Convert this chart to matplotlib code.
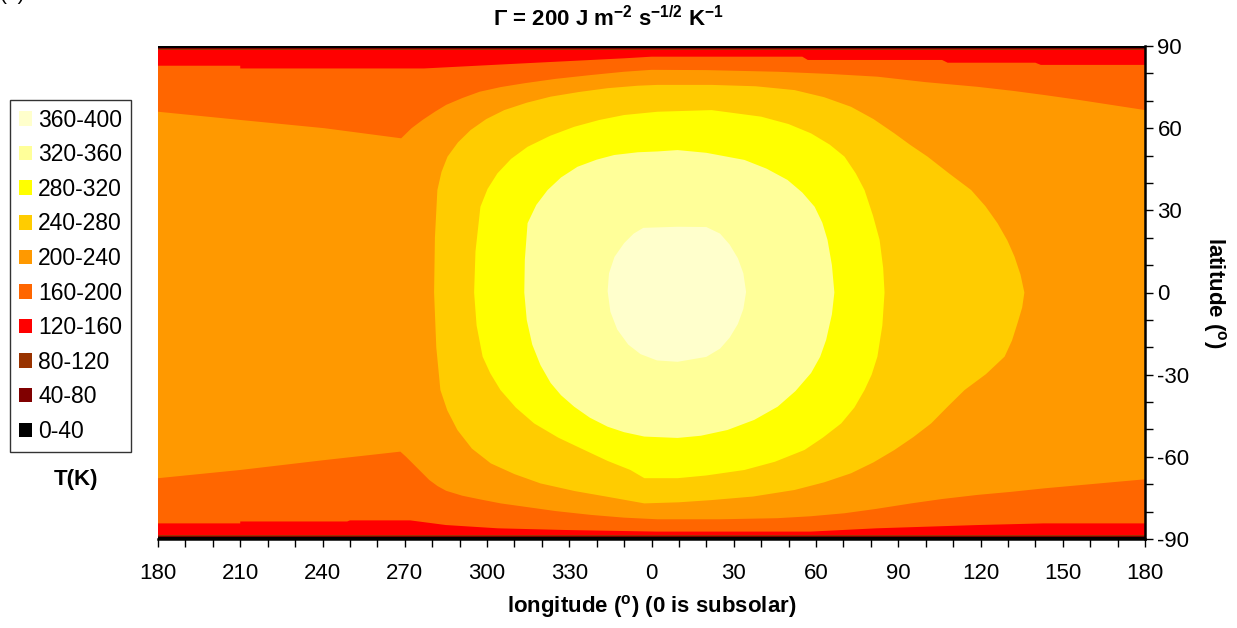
import matplotlib
matplotlib.use("Agg")
import matplotlib.pyplot as plt
from matplotlib.patches import Patch
from matplotlib.ticker import MultipleLocator, FuncFormatter

# temperature classes (K), low to high
classes = ["0-40", "40-80", "80-120", "120-160", "160-200", "200-240",
           "240-280", "280-320", "320-360", "360-400"]
colors = ["#000000", "#800000", "#993300", "#FF0000", "#FF6600", "#FF9900",
          "#FFCC00", "#FFFF00", "#FFFF99", "#FFFFCC"]

# thin polar rims: |lat| inside which 40-80, 80-120, 120-160 start
rim_lat = [89.3, 88.9, 88.5]

# 120-160 / 160-200 boundary (longitude measured from subsolar point)
red_n_lon = [-180, -150, -150, -83, -46, -10, 0, 55, 57, 106, 108, 140, 142, 180]
red_n_lat = [82.8, 82.8, 81.8, 81.8, 83.7, 85.5, 86.1, 86.1, 84.9, 84.9, 83.9, 83.9, 83.1, 83.1]
red_s_lon = [-180, -150, -150, -111, -110, -88, -75, -56, -32, 2, 58, 82, 119, 143, 180]
red_s_lat = [-84.3, -84.3, -83.6, -83.6, -83.2, -83.2, -84.9, -86.1, -86.7, -87.3, -87.3,
             -86.1, -84.9, -84.3, -84.3]

# 160-200 / 200-240 boundary
org_n_lon = [-180, -150, -119.4, -91.3, -87.5, -83.5, -79, -74.9, -69, -62.7, -55, -46.4,
             -35, -22.1, -10, 0, 20, 46, 65, 82.4, 100, 118.9, 132, 143.3, 156, 167.7, 180]
org_n_lat = [66.0, 63.0, 60.0, 56.3, 60.0, 63.0, 66.0, 68.5, 71.0, 73.3, 75.0, 76.4,
             78.0, 79.4, 80.6, 81.3, 81.2, 80.6, 79.8, 78.8, 76.8, 75.1, 73.6, 72.1, 70.3,
             68.5, 66.6]
org_s_lon = [-180, -150, -119.4, -91.6, -89.5, -87.1, -84, -81.0, -78, -74.9, -69, -62.7,
             -55, -46.4, -35, -22.1, -10, 2.2, 25, 46, 58, 70.4, 82, 94.7, 106, 118.9, 131,
             143.3, 160, 180]
org_s_lat = [-67.8, -64.8, -61.2, -58.1, -60.0, -62.4, -65.5, -68.5, -70.7, -72.4, -74.2,
             -75.5, -77.0, -78.2, -79.8, -81.2, -82.2, -82.8, -82.8, -82.4, -81.7, -80.6,
             -79.0, -77.0, -75.4, -73.9, -72.8, -71.5, -70.0, -68.2]

# closed contours around the hot spot
gold_lon = [-16.0, -5, 2.2, 21.9, 38, 52.2, 63, 72.8, 81, 88.6, 94.5, 100.7, 108.5, 116.6,
            121.8, 126.2, 129.8, 132.4, 134.6, 136.0, 135.2, 133.5, 131.5, 128.8, 122, 114.2,
            108, 102.0, 95.5, 88.6, 81, 72.8, 63, 52.2, 37, 21.8, 10, -2.6, -16.0, -28,
            -40.5, -50, -58.6, -65.5, -70.8, -74.5, -77.0, -78.5, -79.3, -79.0, -78.1, -76.6,
            -74.4, -70.6, -66.0, -60.3, -53.7, -45.5, -36.8, -26.5]
gold_lat = [74.6, 75.5, 75.8, 75.8, 75.3, 73.9, 71.3, 67.8, 63.3, 58.1, 53.8, 49.6, 43.5,
            37.4, 31.5, 25.3, 19.0, 13.1, 6.5, 0.0, -5.5, -11.2, -17.5, -23.4, -29.8, -35.6,
            -41.7, -47.8, -52.8, -57.5, -62.0, -66.0, -69.3, -72.1, -74.5, -75.8, -76.6,
            -77.0, -74.6, -72.5, -69.7, -66.3, -62.4, -57.0, -50.2, -43.0, -35.6, -20.0, 0.0,
            20.0, 37.4, 44.0, 49.6, 54.8, 59.3, 63.3, 66.6, 69.3, 71.5, 73.2]

yel_lon = [-10.0, 2.2, 21.9, 40.0, 50, 58.2, 65, 70.4, 74.5, 77.7, 80.8, 83.2, 84.5, 85.0,
           84.2, 82.4, 80.3, 77.7, 74, 69.2, 62.5, 55.8, 45, 33.9, 20, 9.5, -2.6, -7.7, -16,
           -24.5, -34, -42.8, -49.5, -55.1, -58.8, -61.6, -63.8, -64.7, -64.2, -62.4, -59.8,
           -56.2, -51.2, -45.2, -37, -28.2, -19]
yel_lat = [64.8, 66.0, 66.6, 64.2, 61.5, 58.1, 54.0, 49.6, 43.5, 37.4, 28.0, 19.2, 9.0, 0.0,
           -12.0, -23.4, -30.0, -35.6, -42.0, -47.8, -53.0, -57.5, -61.8, -64.8, -66.8, -67.8,
           -67.8, -64.8, -61.5, -57.5, -53.0, -47.8, -42.0, -35.6, -29.5, -23.4, -12.0, 0.0,
           15.0, 31.3, 37.8, 43.5, 48.8, 53.2, 57.2, 60.5, 63.0]

lyel_lon = [-5, 2.2, 9.5, 20, 33.9, 42, 49.6, 55, 59.5, 62.3, 64.2, 65.8, 66.7, 65.8, 63.7,
            61.5, 58.2, 52.5, 46.0, 37.5, 27.7, 18, 9.5, -2.6, -10, -16.0, -22.5, -28.2, -33,
            -36.8, -40.5, -43.5, -45.5, -46.4, -46.2, -45.2, -42, -37.9, -33, -27, -20, -13.6]
lyel_lat = [51.2, 51.5, 52.0, 51.0, 48.4, 45.2, 41.1, 36.5, 31.3, 25.5, 19.2, 10.0, 0.0, -8.0,
            -17.3, -23.5, -29.4, -36.0, -41.7, -46.5, -50.2, -52.3, -53.1, -52.6, -51.0,
            -49.0, -45.7, -41.7, -37.5, -33.0, -26.5, -19.0, -10.0, 0.0, 12.0, 25.3, 32.0,
            37.4, 42.0, 45.9, 48.5, 50.2]

cream_lon = [-3, 9.5, 20, 25, 28.5, 31.5, 33.5, 34.5, 33.5, 31.5, 28.5, 25, 20, 9.5, 2,
             -4, -8.5, -12.5, -15, -16, -15.5, -13.5, -10, -6.5]
cream_lat = [23.6, 24.0, 23.9, 21.5, 17.5, 12.5, 7.0, 0.2, -6.0, -11.5, -16.5, -20.5, -23.5,
             -25.3, -24.8, -22.5, -19.0, -13.5, -7.0, 0.5, 7.0, 13.0, 18.0, 21.5]

lon_edges = [-180, 180]

narrow = ["Liberation Sans Narrow", "Liberation Sans", "DejaVu Sans"]
plt.rcParams.update({
    "font.family": ["Liberation Sans", "DejaVu Sans"],
    "axes.unicode_minus": False,
    "mathtext.default": "regular",
})

fig = plt.figure(figsize=(12.37, 6.28), dpi=100)
ax = fig.add_axes([158 / 1237, 1 - 539 / 628, 987 / 1237, 493 / 628])
ax.set_facecolor(colors[0])

# polar rims
for r, c in zip(rim_lat, colors[1:4]):
    ax.fill_between(lon_edges, [-r, -r], [r, r], color=c, lw=0)

# latitude bands
ax.fill(red_n_lon + red_s_lon[::-1], red_n_lat + red_s_lat[::-1], color=colors[4], lw=0)
ax.fill(org_n_lon + org_s_lon[::-1], org_n_lat + org_s_lat[::-1], color=colors[5], lw=0)

# closed contours
ax.fill(gold_lon, gold_lat, color=colors[6], lw=0)
ax.fill(yel_lon, yel_lat, color=colors[7], lw=0)
ax.fill(lyel_lon, lyel_lat, color=colors[8], lw=0)
ax.fill(cream_lon, cream_lat, color=colors[9], lw=0)

ax.set_xlim(-180, 180)
ax.set_ylim(-90, 90)

ax.spines["left"].set_visible(False)
ax.spines["top"].set_visible(False)
for s in ("right", "bottom"):
    ax.spines[s].set_linewidth(1.8)

ax.xaxis.set_major_locator(MultipleLocator(30))
ax.xaxis.set_minor_locator(MultipleLocator(10))
ax.xaxis.set_major_formatter(FuncFormatter(lambda v, p: f"{int(round(v)) % 360}"))
ax.yaxis.set_major_locator(MultipleLocator(30))
ax.yaxis.set_minor_locator(MultipleLocator(10))
ax.yaxis.tick_right()
ax.tick_params(axis="x", which="both", direction="out", length=6, width=1,
               top=False, bottom=True, labelsize=16, pad=11)
ax.tick_params(axis="y", which="both", direction="out", length=6, width=1,
               left=False, right=True, labelleft=False, labelright=True,
               labelsize=16, pad=3)

ax.set_xlabel(r"longitude ($^o$) (0 is subsolar)", fontsize=16, fontweight="bold",
              family=narrow, labelpad=7)
ax.yaxis.set_label_position("right")
ax.set_ylabel(r"latitude ($^o$)", fontsize=16, fontweight="bold", family=narrow,
              rotation=270, va="bottom", labelpad=8)

fig.text(608 / 1237, 1 - 19 / 628, r"Γ = 200 J m$^{-2}$ s$^{-1/2}$ K$^{-1}$",
         ha="center", va="center", fontsize=16, fontweight="bold", family=narrow)

# legend, hottest class on top
handles = [Patch(facecolor=c, edgecolor="none") for c in colors[::-1]]
leg = fig.legend(handles, classes[::-1], loc="upper left",
                 bbox_to_anchor=(10 / 1237, 1 - 100 / 628), borderaxespad=0,
                 fontsize=16.5, frameon=True, fancybox=False, edgecolor="black",
                 handlelength=0.6, handleheight=0.6, handletextpad=0.25,
                 labelspacing=0.505, borderpad=0.38)
leg.get_frame().set_linewidth(1.0)

fig.text(76 / 1237, 1 - 480 / 628, "T(K)", ha="center", va="center",
         fontsize=16, fontweight="bold")
fig.text(0.0, 1 - 3.5 / 628, "(a)", ha="left", va="bottom", fontsize=15)

fig.savefig("out.png", dpi=100)
